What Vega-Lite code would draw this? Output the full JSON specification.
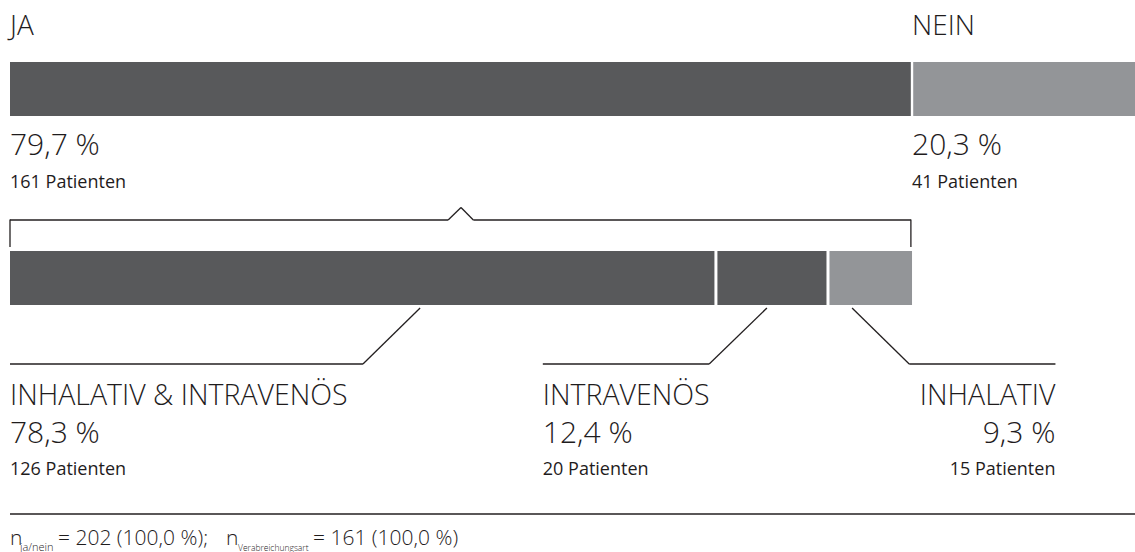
{
  "$schema": "https://vega.github.io/schema/vega-lite/v6.json",
  "width": 1135,
  "height": 552,
  "padding": 0,
  "autosize": "none",
  "background": "white",
  "config": {
    "view": {"stroke": null},
    "axis": {"disable": true},
    "legend": {"disable": true},
    "locale": {
      "number": {
        "decimal": ",",
        "thousands": ".",
        "grouping": [3],
        "currency": ["", " Patienten"],
        "percent": "\u00a0%"
      }
    },
    "text": {"font": "Open Sans", "fontWeight": 300, "color": "#1f1c1d", "align": "left", "baseline": "alphabetic"},
    "rule": {"color": "#231f20", "strokeWidth": 1.3}
  },
  "datasets": {
    "antwort": [
      {"antwort": "JA", "anteil": 0.797, "patienten": 161},
      {"antwort": "NEIN", "anteil": 0.203, "patienten": 41}
    ],
    "verabreichung": [
      {"art": "INHALATIV & INTRAVENÖS", "anteil": 0.783, "patienten": 126},
      {"art": "INTRAVENÖS", "anteil": 0.124, "patienten": 20},
      {"art": "INHALATIV", "anteil": 0.093, "patienten": 15}
    ]
  },
  "layer": [
    {
      "data": {"name": "antwort"},
      "transform": [{"stack": "patienten", "groupby": [], "as": ["x0", "x1"]}],
      "layer": [
        {
          "mark": {"type": "bar", "clip": true},
          "encoding": {
            "x": {"field": "x0", "type": "quantitative", "scale": {"domain": [-1.785, 200.8], "nice": false, "zero": false}},
            "x2": {"field": "x1"},
            "y": {"datum": 62, "scale": {"domain": [0, 552], "reverse": true, "nice": false, "zero": false}},
            "y2": {"datum": 116},
            "color": {"field": "antwort", "type": "nominal", "scale": {"domain": ["JA", "NEIN", "INHALATIV & INTRAVENÖS", "INTRAVENÖS", "INHALATIV"], "range": ["#58595b", "#939598", "#58595b", "#58595b", "#939598"]}}
          }
        },
        {
          "transform": [{"filter": "datum.antwort === 'JA'"}],
          "mark": {"type": "rule", "color": "white", "strokeWidth": 2.4},
          "encoding": {
            "x": {"field": "x1", "type": "quantitative"},
            "y": {"datum": 61},
            "y2": {"datum": 117}
          }
        },
        {
          "mark": {"type": "text", "fontSize": 28},
          "encoding": {
            "x": {"field": "x0", "type": "quantitative"},
            "y": {"datum": 35},
            "text": {"field": "antwort"}
          }
        },
        {
          "mark": {"type": "text", "fontSize": 30},
          "encoding": {
            "x": {"field": "x0", "type": "quantitative"},
            "y": {"datum": 155},
            "text": {"field": "anteil", "type": "quantitative", "format": ".1%"}
          }
        },
        {
          "mark": {"type": "text", "fontSize": 18, "fontWeight": 400},
          "encoding": {
            "x": {"field": "x0", "type": "quantitative"},
            "y": {"datum": 188},
            "text": {"field": "patienten", "type": "quantitative", "format": "$d"}
          }
        }
      ]
    },
    {
      "data": {"name": "verabreichung"},
      "transform": [{"stack": "patienten", "groupby": [], "as": ["x0", "x1"]}],
      "layer": [
        {
          "mark": {"type": "bar", "clip": true},
          "encoding": {
            "x": {"field": "x0", "type": "quantitative"},
            "x2": {"field": "x1"},
            "y": {"datum": 251},
            "y2": {"datum": 305},
            "color": {"field": "art", "type": "nominal", "scale": {"domain": ["JA", "NEIN", "INHALATIV & INTRAVENÖS", "INTRAVENÖS", "INHALATIV"], "range": ["#58595b", "#939598", "#58595b", "#58595b", "#939598"]}}
          }
        },
        {
          "transform": [{"filter": "datum.art !== 'INHALATIV'"}],
          "mark": {"type": "rule", "color": "white", "strokeWidth": 3},
          "encoding": {
            "x": {"field": "x1", "type": "quantitative"},
            "y": {"datum": 250},
            "y2": {"datum": 306}
          }
        },
        {
          "transform": [{"filter": "datum.art === 'INHALATIV & INTRAVENÖS'"}],
          "encoding": {"x": {"datum": 0}},
          "layer": [
            {"mark": {"type": "text", "fontSize": 28.5}, "encoding": {"y": {"datum": 405}, "text": {"field": "art"}}},
            {"mark": {"type": "text", "fontSize": 30}, "encoding": {"y": {"datum": 443}, "text": {"field": "anteil", "type": "quantitative", "format": ".1%"}}},
            {"mark": {"type": "text", "fontSize": 18, "fontWeight": 400}, "encoding": {"y": {"datum": 475}, "text": {"field": "patienten", "type": "quantitative", "format": "$d"}}}
          ]
        },
        {
          "transform": [{"filter": "datum.art === 'INTRAVENÖS'"}],
          "encoding": {"x": {"datum": 95.1}},
          "layer": [
            {"mark": {"type": "text", "fontSize": 28.5}, "encoding": {"y": {"datum": 405}, "text": {"field": "art"}}},
            {"mark": {"type": "text", "fontSize": 30}, "encoding": {"y": {"datum": 443}, "text": {"field": "anteil", "type": "quantitative", "format": ".1%"}}},
            {"mark": {"type": "text", "fontSize": 18, "fontWeight": 400}, "encoding": {"y": {"datum": 475}, "text": {"field": "patienten", "type": "quantitative", "format": "$d"}}}
          ]
        },
        {
          "transform": [{"filter": "datum.art === 'INHALATIV'"}],
          "encoding": {"x": {"datum": 186.6}},
          "layer": [
            {"mark": {"type": "text", "fontSize": 28.5, "align": "right"}, "encoding": {"y": {"datum": 405}, "text": {"field": "art"}}},
            {"mark": {"type": "text", "fontSize": 30, "align": "right"}, "encoding": {"y": {"datum": 443}, "text": {"field": "anteil", "type": "quantitative", "format": ".1%"}}},
            {"mark": {"type": "text", "fontSize": 18, "fontWeight": 400, "align": "right"}, "encoding": {"y": {"datum": 475}, "text": {"field": "patienten", "type": "quantitative", "format": "$d"}}}
          ]
        }
      ]
    },
    {
      "data": {"values": [{}]},
      "layer": [
        {"mark": "rule", "encoding": {"x": {"datum": 0}, "x2": {"datum": 78.2}, "y": {"datum": 220}}},
        {"mark": "rule", "encoding": {"x": {"datum": 78.2}, "x2": {"datum": 80.5}, "y": {"datum": 220}, "y2": {"datum": 207.5}}},
        {"mark": "rule", "encoding": {"x": {"datum": 80.5}, "x2": {"datum": 82.7}, "y": {"datum": 207.5}, "y2": {"datum": 220}}},
        {"mark": "rule", "encoding": {"x": {"datum": 82.7}, "x2": {"datum": 160.8}, "y": {"datum": 220}}},
        {"mark": "rule", "encoding": {"x": {"datum": 0}, "y": {"datum": 219.4}, "y2": {"datum": 247}}},
        {"mark": "rule", "encoding": {"x": {"datum": 160.8}, "y": {"datum": 219.4}, "y2": {"datum": 247}}},
        {"mark": "rule", "encoding": {"x": {"datum": 73.2}, "x2": {"datum": 63.0}, "y": {"datum": 308}, "y2": {"datum": 364}}},
        {"mark": "rule", "encoding": {"x": {"datum": 63.0}, "x2": {"datum": 0}, "y": {"datum": 364}}},
        {"mark": "rule", "encoding": {"x": {"datum": 135.1}, "x2": {"datum": 124.8}, "y": {"datum": 308}, "y2": {"datum": 364}}},
        {"mark": "rule", "encoding": {"x": {"datum": 124.8}, "x2": {"datum": 95.1}, "y": {"datum": 364}}},
        {"mark": "rule", "encoding": {"x": {"datum": 150.3}, "x2": {"datum": 160.5}, "y": {"datum": 308}, "y2": {"datum": 364}}},
        {"mark": "rule", "encoding": {"x": {"datum": 160.5}, "x2": {"datum": 186.6}, "y": {"datum": 364}}},
        {"mark": "rule", "encoding": {"x": {"datum": 0}, "x2": {"datum": 201}, "y": {"datum": 514}}},
        {"mark": {"type": "text", "text": "n", "fontSize": 21}, "encoding": {"x": {"datum": 0}, "y": {"datum": 545}}},
        {"mark": {"type": "text", "text": "ja/nein", "fontSize": 11}, "encoding": {"x": {"datum": 1.785}, "y": {"datum": 550.5}}},
        {"mark": {"type": "text", "text": "= 202 (100,0 %);", "fontSize": 21}, "encoding": {"x": {"datum": 8.57}, "y": {"datum": 545}}},
        {"mark": {"type": "text", "text": "n", "fontSize": 21}, "encoding": {"x": {"datum": 38.55}, "y": {"datum": 545}}},
        {"mark": {"type": "text", "text": "Verabreichungsart", "fontSize": 8.5}, "encoding": {"x": {"datum": 40.7}, "y": {"datum": 550.5}}},
        {"mark": {"type": "text", "text": "= 161 (100,0 %)", "fontSize": 21}, "encoding": {"x": {"datum": 54.08}, "y": {"datum": 545}}}
      ]
    }
  ]
}
